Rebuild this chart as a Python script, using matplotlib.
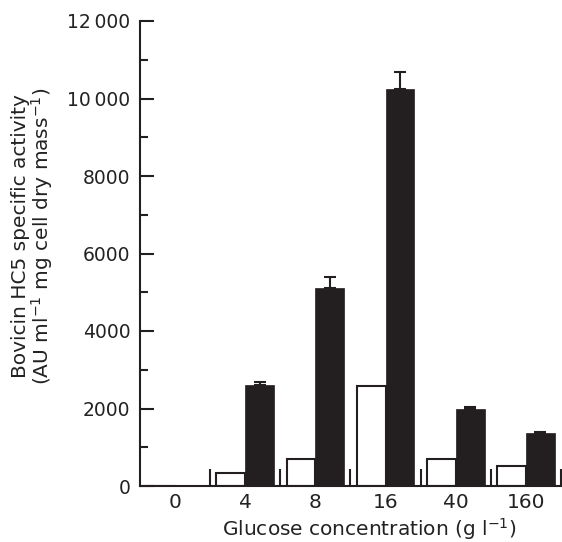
import numpy as np
import matplotlib.pyplot as plt
from matplotlib.ticker import MultipleLocator, FixedLocator

plt.rcParams['font.family'] = ['DejaVu Sans']

# data
glucose = ['0', '4', '8', '16', '40', '160']
white_vals = [0, 340, 700, 2590, 700, 520]
black_vals = [0, 2600, 5120, 10250, 1980, 1360]
black_err = [0, 85, 280, 440, 60, 30]
ytick_vals = [0, 2000, 4000, 6000, 8000, 10000, 12000]
ytick_labels = ['0', '2000', '4000', '6000', '8000', '10\u2009000', '12\u2009000']

dark = '#231f20'
fig = plt.figure(figsize=(5.62, 5.42), dpi=100)
ax = fig.add_axes([140 / 562, 1 - 486 / 542, 421 / 562, 465 / 542])

x = np.arange(len(glucose))
w = 0.41
ax.bar(x - w / 2, white_vals, w, color='white', edgecolor=dark, linewidth=1.5, zorder=2)
ax.bar(x + w / 2, black_vals, w, color=dark, edgecolor=dark, linewidth=0.5, zorder=2)
mask = np.array(black_vals) > 0
ax.errorbar((x + w / 2)[mask], np.array(black_vals)[mask],
            yerr=[np.zeros(mask.sum()), np.array(black_err)[mask]],
            fmt='none', ecolor=dark, elinewidth=1.5, capsize=4.5, capthick=1.5, zorder=1)

ax.set_xlim(-0.5, 5.5)
ax.set_ylim(0, 12000)
for s in ['top', 'right']:
    ax.spines[s].set_visible(False)
for s in ['left', 'bottom']:
    ax.spines[s].set_linewidth(1.5)
    ax.spines[s].set_color(dark)

ax.set_yticks(ytick_vals)
ax.set_yticklabels(ytick_labels)
ax.yaxis.set_minor_locator(MultipleLocator(1000))
ax.tick_params(axis='y', which='major', direction='in', length=10, width=1.5,
               color=dark, labelsize=13.5, pad=7, labelcolor='#222222')
ax.tick_params(axis='y', which='minor', direction='in', length=6, width=1.5, color=dark)

ax.set_xticks(x)
ax.set_xticklabels(glucose)
ax.xaxis.set_minor_locator(FixedLocator(np.arange(0.5, 6, 1)))
ax.tick_params(axis='x', which='major', length=0, labelsize=14.5, pad=5, labelcolor='#222222')
ax.tick_params(axis='x', which='minor', direction='in', length=12, width=1.5, color=dark)

ax.set_xlabel('Glucose concentration (g l$^{-1}$)', fontsize=14.5, color='#222222')
ax.xaxis.set_label_coords(0.544, -0.064)
ax.set_ylabel('Bovicin HC5 specific activity\n(AU ml$^{-1}$ mg cell dry mass$^{-1}$)',
              fontsize=14.5, linespacing=0.95, color='#222222')
ax.yaxis.set_label_coords(-0.203, 0.538)

fig.savefig('out.png', dpi=100)
